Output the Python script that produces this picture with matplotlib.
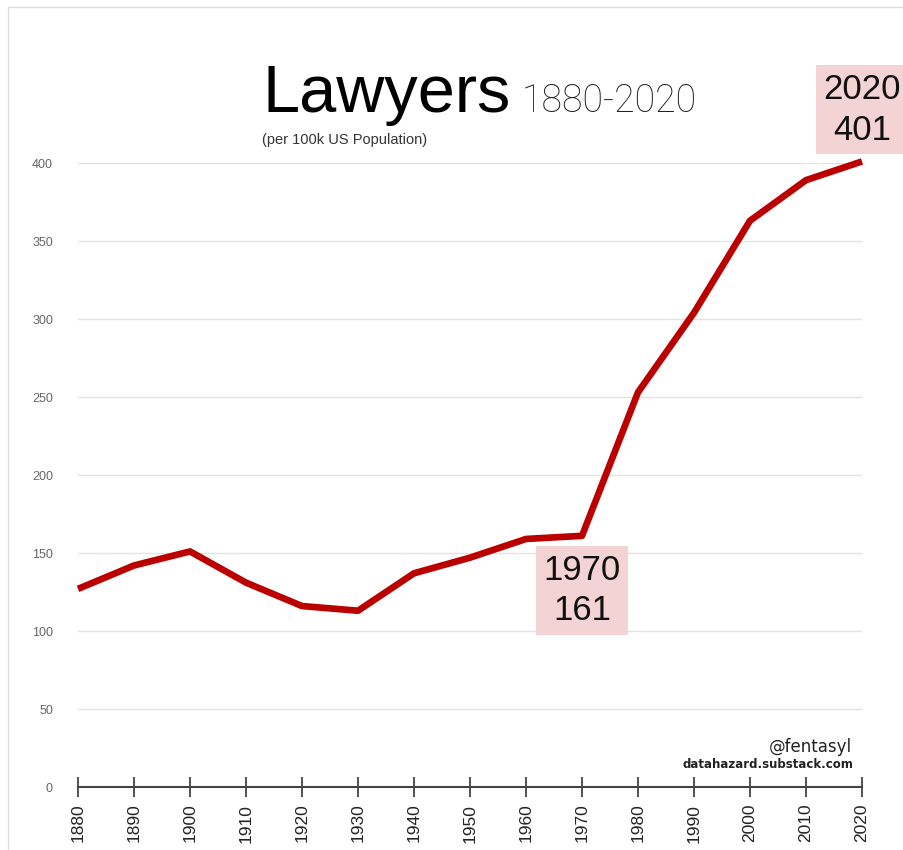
import numpy as np
import matplotlib
matplotlib.use("Agg")
import matplotlib.pyplot as plt
from matplotlib.patches import Rectangle

# lawyers per 100k US population
years = [1880, 1890, 1900, 1910, 1920, 1930, 1940, 1950, 1960, 1970,
         1980, 1990, 2000, 2010, 2020]
lawyers = [127, 142, 151, 131, 116, 113, 137, 147, 159, 161,
           253, 304, 363, 389, 401]
y_ticks = [0, 50, 100, 150, 200, 250, 300, 350, 400]
callouts = [(1970, 161, 126), (2020, 401, 434)]  # year, value, label height

plt.rcParams["font.family"] = ["Liberation Sans", "DejaVu Sans"]

fig = plt.figure(figsize=(9.04, 8.5), dpi=100)
fig.patches.append(Rectangle((8 / 904, -0.01), 1.1, 1 - 7 / 850 + 0.01,
                             transform=fig.transFigure, fill=False,
                             ec="#dddddd", lw=1))
ax = fig.add_axes([78 / 904, 63 / 850, 784 / 904, 624 / 850])

ax.plot(years, lawyers, color="#bb0000", lw=4.8, solid_capstyle="butt",
        solid_joinstyle="round", clip_on=False, zorder=3)

ax.set_xlim(1880, 2020)
ax.set_ylim(0, 400)
ax.set_xticks(years)
ax.set_xticklabels([str(y) for y in years], rotation=90, fontsize=12.5,
                   color="#222222")
ax.set_yticks(y_ticks)
ax.set_yticklabels([str(v) for v in y_ticks], fontsize=9, color="#666666")
ax.tick_params(axis="y", length=0, pad=18)
ax.tick_params(axis="x", direction="inout", length=14, width=1.3,
               color="#444444", pad=5)
for v in y_ticks[1:]:
    ax.axhline(v, color="#e2e2e2", lw=1, zorder=1)
for s in ["left", "right", "top"]:
    ax.spines[s].set_visible(False)
ax.spines["bottom"].set_color("#444444")
ax.spines["bottom"].set_linewidth(1.5)

for yr, val, ty in callouts:
    ax.text(yr, ty, f"{yr}\n{val}", ha="center", va="center", fontsize=25,
            color="#111111", linespacing=1.3, clip_on=False, zorder=4,
            bbox=dict(boxstyle="square,pad=0.22", fc="#f3d3d3", ec="none"))

fig.text(262 / 904, 1 - 112 / 850, "Lawyers", fontsize=48, color="black",
         ha="left", va="baseline")
fig.text(522 / 904, 1 - 112 / 850, "1880-2020", fontsize=27,
         family=["Roboto", "DejaVu Sans"], fontweight="light",
         color="#222222", ha="left", va="baseline")
fig.text(262 / 904, 1 - 144 / 850, "(per 100k US Population)", fontsize=10.5,
         color="#333333", ha="left", va="baseline")

fig.text(852 / 904, 1 - 752 / 850, "@fentasyl", fontsize=12,
         family=["Liberation Sans Narrow", "DejaVu Sans"], color="#222222",
         ha="right", va="baseline")
fig.text(853 / 904, 1 - 768 / 850, "datahazard.substack.com", fontsize=8.5,
         family=["Liberation Sans Narrow", "DejaVu Sans"], fontweight="bold",
         color="#222222", ha="right", va="baseline")

fig.savefig("out.png", dpi=100)
